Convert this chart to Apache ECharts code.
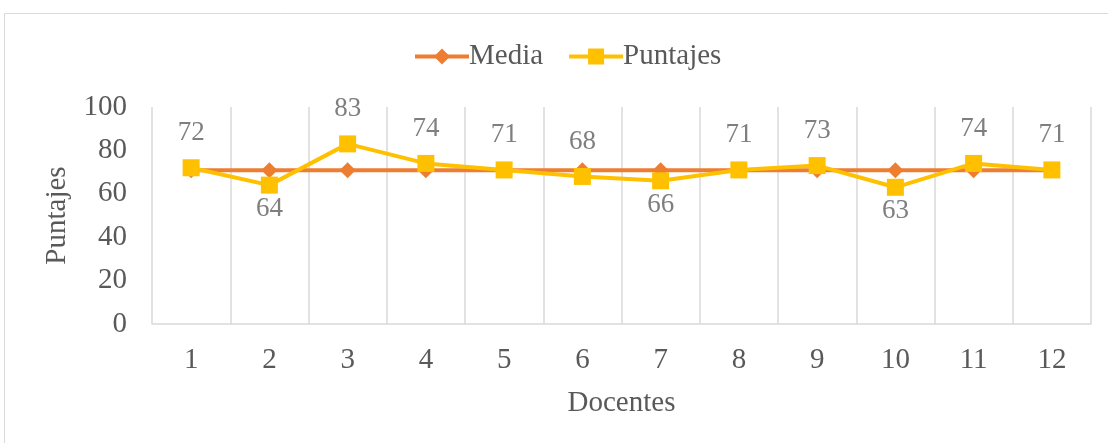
<!DOCTYPE html>
<html>
<head>
<meta charset="utf-8">
<script src="https://cdn.jsdelivr.net/npm/echarts@6/dist/echarts.min.js"></script>
<style>
  html, body { margin: 0; padding: 0; background: #fff; }
  #chart { width: 1108px; height: 443px; }
</style>
</head>
<body>
<div id="chart"></div>
<script>
// datos
const docentes = ['1', '2', '3', '4', '5', '6', '7', '8', '9', '10', '11', '12']
const media = [70.8, 70.8, 70.8, 70.8, 70.8, 70.8, 70.8, 70.8, 70.8, 70.8, 70.8, 70.8]
const puntajes = [72, 64, 83, 74, 71, 68, 66, 71, 73, 63, 74, 71]
const yTicks = [0, 20, 40, 60, 80, 100]

// etiquetas que van debajo del punto
const abajo = [1, 6, 9]

const fuente = '"Liberation Serif", "Times New Roman", serif'
const gris = '#595959'

let chart = echarts.init(document.getElementById('chart'))
chart.setOption({
  animation: false,
  textStyle: { fontFamily: fuente },
  graphic: [
    {
      type: 'rect',
      shape: { x: 4.5, y: 13.5, width: 1120, height: 440 },
      style: { fill: 'none', stroke: '#d9d9d9', lineWidth: 1 },
      silent: true
    }
  ],
  legend: {
    top: 37,
    left: 408,
    itemWidth: 54,
    itemHeight: 20,
    itemGap: 24,
    lineStyle: { width: 4 },
    textStyle: { fontFamily: fuente, fontSize: 29, color: gris, padding: [0, 0, 0, -5] },
    data: ['Media', 'Puntajes']
  },
  grid: { left: 152, right: 17, top: 107, bottom: 119 },
  xAxis: {
    type: 'category',
    data: docentes,
    boundaryGap: true,
    name: 'Docentes',
    nameLocation: 'middle',
    nameGap: 65,
    nameTextStyle: { fontFamily: fuente, fontSize: 29, color: gris },
    axisLine: { lineStyle: { color: '#d9d9d9', width: 1.5 } },
    axisTick: { show: false },
    axisLabel: { fontFamily: fuente, fontSize: 29, color: gris, margin: 22 },
    splitLine: { show: true, lineStyle: { color: '#d9d9d9', width: 1.5 } }
  },
  yAxis: {
    type: 'value',
    min: 0,
    max: 100,
    interval: 20,
    name: 'Puntajes',
    nameLocation: 'middle',
    nameGap: 80,
    nameTextStyle: { fontFamily: fuente, fontSize: 29, color: gris },
    axisLine: { show: false },
    axisTick: { show: false },
    splitLine: { show: false },
    axisLabel: {
      fontFamily: fuente,
      fontSize: 29,
      color: gris,
      margin: 25,
      formatter: v => yTicks.indexOf(v) >= 0 ? String(v) : ''
    }
  },
  series: [
    {
      name: 'Media',
      type: 'line',
      data: media,
      symbol: 'diamond',
      symbolSize: 16,
      lineStyle: { color: '#ED7D31', width: 4 },
      itemStyle: { color: '#ED7D31' },
      z: 2
    },
    {
      name: 'Puntajes',
      type: 'line',
      data: puntajes.map((v, i) => ({
        value: v,
        label: abajo.indexOf(i) >= 0 ? { position: 'bottom', distance: 2 } : { position: 'top', distance: 13 }
      })),
      symbol: 'rect',
      symbolSize: 17,
      lineStyle: { color: '#FFC000', width: 4 },
      itemStyle: { color: '#FFC000' },
      label: {
        show: true,
        fontFamily: fuente,
        fontSize: 27,
        color: '#7f7f7f'
      },
      z: 3
    }
  ]
})
</script>
</body>
</html>
